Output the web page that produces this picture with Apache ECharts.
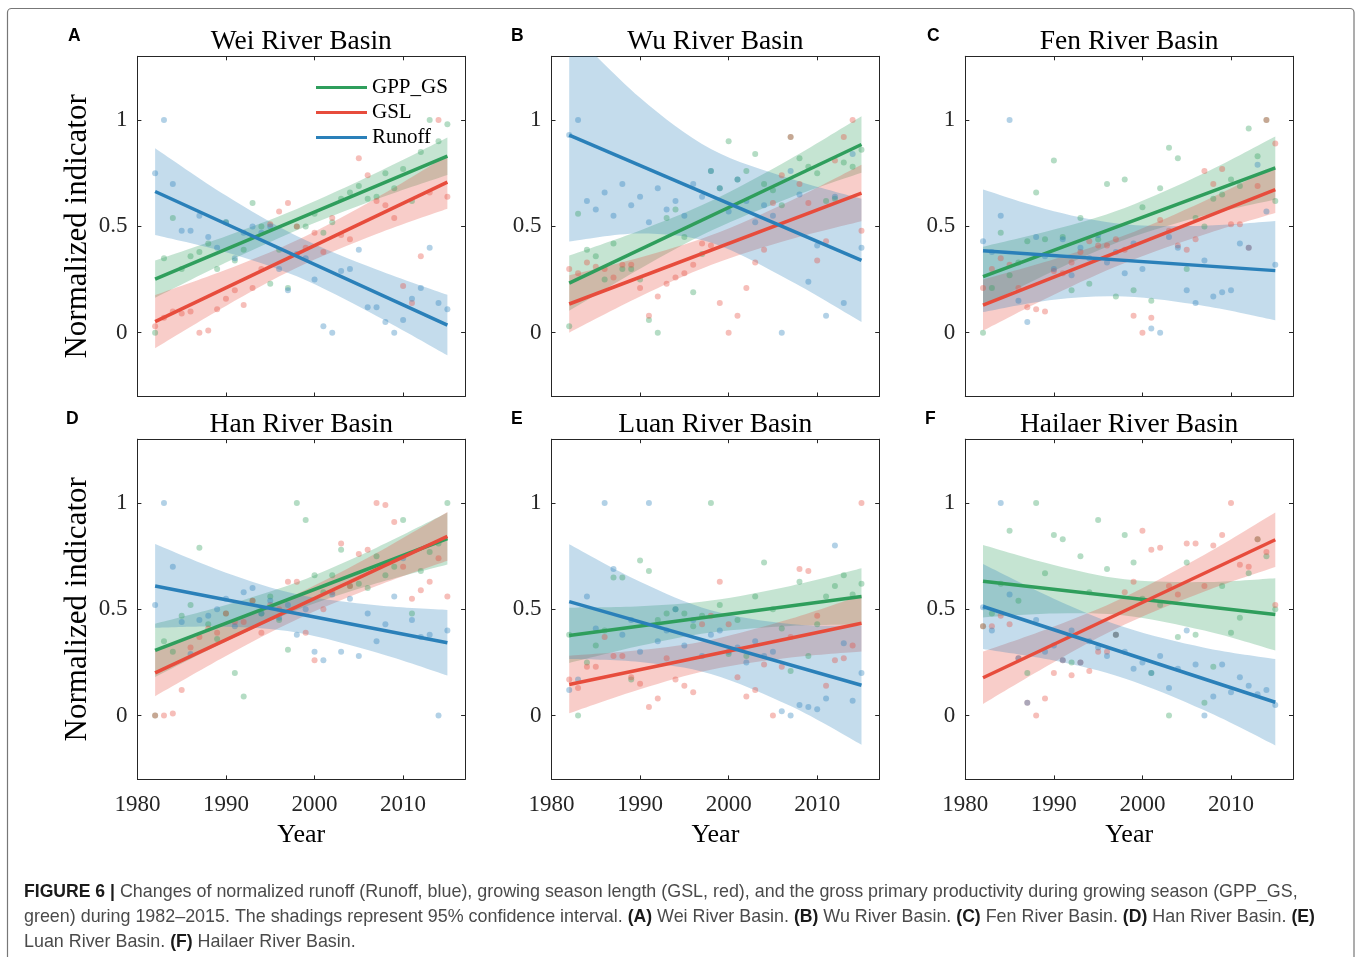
<!DOCTYPE html>
<html><head><meta charset="utf-8">
<script src="https://cdn.jsdelivr.net/npm/echarts@6/dist/echarts.min.js"></script>
<style>html,body{margin:0;padding:0;background:#fff}#c{width:1358px;height:957px}</style>
</head><body><div id="c"></div><script>
// ---------- data ----------
const years = [1982,1983,1984,1985,1986,1987,1988,1989,1990,1991,1992,1993,1994,1995,1996,1997,1998,1999,2000,2001,2002,2003,2004,2005,2006,2007,2008,2009,2010,2011,2012,2013,2014,2015];
const fitYears = [1982, 2015];
const bandYears = [1982, 1990, 1998, 2007, 2015];
const xTickLabels = [1980, 1990, 2000, 2010];
const xTickMarks = [1990, 2000, 2010];
const yTickLabels = [0, 0.5, 1];
const seriesNames = ['GPP_GS', 'GSL', 'Runoff'];
const basinNames = ['Wei River Basin', 'Wu River Basin', 'Fen River Basin', 'Han River Basin', 'Luan River Basin', 'Hailaer River Basin'];
const panelLetters = ['A', 'B', 'C', 'D', 'E', 'F'];

// Wei
const weiGPP = [0.00,0.35,0.54,0.30,0.36,0.38,0.42,0.30,0.52,0.34,0.39,0.61,0.50,0.23,0.39,0.21,0.50,0.50,0.56,0.47,0.52,0.63,0.66,0.69,0.63,0.64,0.75,0.68,0.77,0.62,0.85,1.00,0.90,0.98];
const weiGSL = [0.03,0.07,0.10,0.09,0.10,0.00,0.01,0.11,0.16,0.20,0.13,0.21,0.30,0.51,0.57,0.61,0.50,0.40,0.47,0.38,0.54,0.46,0.44,0.82,0.74,0.62,0.60,0.54,0.22,0.14,0.36,0.66,1.00,0.64];
const weiRunoff = [0.75,1.00,0.70,0.48,0.48,0.55,0.45,0.40,0.52,0.35,0.47,0.50,0.47,0.50,0.30,0.20,0.37,0.35,0.25,0.03,0.00,0.29,0.30,0.39,0.12,0.12,0.05,0.00,0.06,0.16,0.21,0.40,0.14,0.11];
const weiGPPFit = [0.252, 0.830], weiGSLFit = [0.052, 0.708], weiRunoffFit = [0.664, 0.036];
const weiGPPLo = [0.164,0.330,0.482,0.628,0.742], weiGPPHi = [0.340,0.454,0.582,0.752,0.918];
const weiGSLLo = [-0.073,0.126,0.305,0.464,0.583], weiGSLHi = [0.177,0.296,0.435,0.634,0.833];
const weiRunoffLo = [0.460,0.379,0.265,0.079,-0.106], weiRunoffHi = [0.868,0.645,0.455,0.297,0.178];

// Wu
const wuGPP = [0.03,0.56,0.39,0.36,0.25,0.42,0.30,0.30,0.25,0.06,0.00,0.54,0.58,0.45,0.19,0.37,0.76,0.68,0.90,0.72,0.76,0.84,0.70,0.67,0.60,0.92,0.82,0.78,0.75,0.62,0.63,0.80,0.78,0.86];
const wuGSL = [0.30,0.28,0.33,0.31,0.30,0.26,0.32,0.32,0.21,0.08,0.17,0.23,0.26,0.28,0.32,0.42,0.41,0.14,0.00,0.08,0.21,0.33,0.39,0.61,0.74,0.92,0.70,0.61,0.34,0.43,0.81,0.92,1.00,0.48];
const wuRunoff = [0.93,1.00,0.62,0.58,0.66,0.55,0.70,0.60,0.64,0.52,0.68,0.58,0.62,0.55,0.70,0.64,0.76,0.68,0.57,0.72,0.62,0.52,0.60,0.55,0.00,0.76,0.65,0.24,0.41,0.08,0.64,0.14,0.84,0.40];
const wuGPPFit = [0.233, 0.885], wuGSLFit = [0.135, 0.657], wuRunoffFit = [0.929, 0.340];
const wuGPPLo = [0.103,0.301,0.479,0.636,0.752], wuGPPHi = [0.363,0.481,0.619,0.818,1.018];
const wuGSLLo = [0.000,0.170,0.318,0.439,0.524], wuGSLHi = [0.270,0.354,0.458,0.621,0.790];
const wuRunoffLo = [0.429,0.467,0.424,0.243,0.050], wuRunoffHi = [1.429,1.105,0.864,0.724,0.630];

// Fen
const fenGPP = [0.00,0.21,0.47,0.27,0.33,0.43,0.66,0.44,0.81,0.45,0.20,0.54,0.23,0.44,0.70,0.17,0.72,0.20,0.59,0.15,0.68,0.87,0.82,0.30,0.54,0.50,0.63,0.65,0.72,0.69,0.96,0.83,1.00,0.62];
const fenGSL = [0.21,0.30,0.35,0.32,0.21,0.12,0.11,0.10,0.29,0.28,0.33,0.38,0.43,0.41,0.41,0.44,0.39,0.08,0.00,0.07,0.53,0.48,0.41,0.39,0.44,0.76,0.70,0.77,0.51,0.51,0.40,0.69,1.00,0.89];
const fenRunoff = [0.43,0.38,0.55,1.00,0.15,0.05,0.45,0.36,0.30,0.44,0.27,0.40,0.35,0.46,0.33,0.38,0.28,0.42,0.30,0.02,0.00,0.45,0.40,0.20,0.14,0.34,0.17,0.19,0.20,0.42,0.40,0.79,0.57,0.32];
const fenGPPFit = [0.264, 0.775], fenGSLFit = [0.130, 0.673], fenRunoffFit = [0.385, 0.292];
const fenGPPLo = [0.124,0.291,0.437,0.551,0.627], fenGPPHi = [0.404,0.485,0.587,0.751,0.923];
const fenGSLLo = [0.010,0.179,0.328,0.462,0.563], fenGSLHi = [0.250,0.345,0.458,0.620,0.783];
const fenRunoffLo = [0.097,0.155,0.170,0.126,0.059], fenRunoffHi = [0.673,0.571,0.510,0.503,0.525];

// Han
const hanGPP = [0.00,0.35,0.30,0.47,0.52,0.79,0.43,0.36,0.48,0.20,0.09,0.54,0.48,0.56,0.45,0.31,1.00,0.92,0.66,0.58,0.66,0.78,0.61,0.62,0.60,0.75,0.66,0.70,0.92,0.48,0.68,0.77,0.81,1.00];
const hanGSL = [0.00,0.00,0.01,0.12,0.32,0.37,0.41,0.39,0.48,0.44,0.44,0.54,0.39,0.52,0.50,0.63,0.63,0.39,0.26,0.50,0.58,0.81,0.61,0.76,0.78,1.00,0.99,0.91,0.70,0.55,0.59,0.63,0.74,0.56];
const hanRunoff = [0.52,1.00,0.70,0.44,0.29,0.45,0.47,0.50,0.55,0.42,0.58,0.60,0.48,0.54,0.46,0.52,0.38,0.50,0.30,0.26,0.57,0.30,0.55,0.28,0.48,0.35,0.43,0.56,0.74,0.45,0.37,0.38,0.00,0.40];
const hanGPPFit = [0.307, 0.833], hanGSLFit = [0.201, 0.843], hanRunoffFit = [0.610, 0.343];
const hanGPPLo = [0.182,0.349,0.497,0.622,0.711], hanGPPHi = [0.432,0.520,0.627,0.790,0.955];
const hanGSLLo = [0.091,0.280,0.452,0.609,0.728], hanGSLHi = [0.311,0.433,0.572,0.765,0.958];
const hanRunoffLo = [0.413,0.418,0.391,0.297,0.189], hanRunoffHi = [0.807,0.672,0.571,0.519,0.497];

// Luan
const luanGPP = [0.38,0.00,0.25,0.33,0.40,0.65,0.65,0.17,0.73,0.68,0.45,0.48,0.50,0.48,0.42,0.47,1.00,0.52,0.29,0.45,0.28,0.56,0.72,0.50,0.41,0.21,0.63,0.28,0.43,0.56,0.61,0.66,0.57,0.62];
const luanGSL = [0.17,0.13,0.23,0.23,0.37,0.28,0.28,0.18,0.15,0.04,0.08,0.27,0.17,0.14,0.11,0.43,0.47,0.63,0.43,0.18,0.09,0.12,0.24,0.00,0.23,0.37,0.69,0.68,0.47,0.14,0.26,0.27,0.33,1.00];
const luanRunoff = [0.12,0.17,0.56,0.41,1.00,0.69,0.38,0.45,0.30,1.00,0.35,0.40,0.50,0.33,0.45,0.28,0.38,0.40,0.30,0.32,0.25,0.35,0.28,0.30,0.02,0.00,0.05,0.04,0.03,0.08,0.80,0.34,0.07,0.20];
const luanGPPFit = [0.377, 0.560], luanGSLFit = [0.146, 0.434], luanRunoffFit = [0.536, 0.143];
const luanGPPLo = [0.247,0.328,0.391,0.422,0.427], luanGPPHi = [0.507,0.514,0.541,0.610,0.693];
const luanGSLLo = [0.011,0.124,0.216,0.273,0.302], luanGSLHi = [0.281,0.308,0.356,0.455,0.566];
const luanRunoffLo = [0.266,0.252,0.196,0.045,-0.137], luanRunoffHi = [0.806,0.630,0.496,0.431,0.423];

// Hailaer
const hailaerGPP = [0.42,0.48,0.62,0.87,0.54,0.20,1.00,0.67,0.85,0.83,0.25,0.75,0.58,0.92,0.69,0.38,0.85,0.72,0.55,0.20,0.52,0.00,0.37,0.72,0.38,0.06,0.23,0.61,0.39,0.46,0.67,0.83,0.75,0.50];
const hailaerGSL = [0.42,0.42,0.47,0.43,0.27,0.06,0.00,0.08,0.20,0.26,0.19,0.25,0.21,0.30,0.30,0.38,0.58,0.63,0.87,0.78,0.79,0.61,0.57,0.81,0.81,0.61,0.80,0.85,1.00,0.71,0.70,0.83,0.77,0.52];
const hailaerRunoff = [0.51,0.40,1.00,0.57,0.27,0.06,0.45,0.30,0.33,0.26,0.40,0.25,0.35,0.32,0.28,0.38,0.30,0.22,0.25,0.20,0.28,0.13,0.22,0.40,0.24,0.00,0.09,0.24,0.11,0.18,0.14,0.10,0.12,0.05];
const hailaerGPPFit = [0.632, 0.476], hailaerGSLFit = [0.178, 0.827], hailaerRunoffFit = [0.513, 0.063];
const hailaerGPPLo = [0.462,0.480,0.471,0.400,0.306], hailaerGPPHi = [0.802,0.708,0.641,0.628,0.646];
const hailaerGSLLo = [0.055,0.251,0.428,0.584,0.699], hailaerGSLHi = [0.301,0.419,0.558,0.756,0.955];
const hailaerRunoffLo = [0.313,0.259,0.175,0.025,-0.140], hailaerRunoffHi = [0.713,0.550,0.415,0.319,0.266];

// ---------- assembly ----------
const panels = [
  {pts:[weiGPP,weiGSL,weiRunoff], fit:[weiGPPFit,weiGSLFit,weiRunoffFit], lo:[weiGPPLo,weiGSLLo,weiRunoffLo], hi:[weiGPPHi,weiGSLHi,weiRunoffHi]},
  {pts:[wuGPP,wuGSL,wuRunoff], fit:[wuGPPFit,wuGSLFit,wuRunoffFit], lo:[wuGPPLo,wuGSLLo,wuRunoffLo], hi:[wuGPPHi,wuGSLHi,wuRunoffHi]},
  {pts:[fenGPP,fenGSL,fenRunoff], fit:[fenGPPFit,fenGSLFit,fenRunoffFit], lo:[fenGPPLo,fenGSLLo,fenRunoffLo], hi:[fenGPPHi,fenGSLHi,fenRunoffHi]},
  {pts:[hanGPP,hanGSL,hanRunoff], fit:[hanGPPFit,hanGSLFit,hanRunoffFit], lo:[hanGPPLo,hanGSLLo,hanRunoffLo], hi:[hanGPPHi,hanGSLHi,hanRunoffHi]},
  {pts:[luanGPP,luanGSL,luanRunoff], fit:[luanGPPFit,luanGSLFit,luanRunoffFit], lo:[luanGPPLo,luanGSLLo,luanRunoffLo], hi:[luanGPPHi,luanGSLHi,luanRunoffHi]},
  {pts:[hailaerGPP,hailaerGSL,hailaerRunoff], fit:[hailaerGPPFit,hailaerGSLFit,hailaerRunoffFit], lo:[hailaerGPPLo,hailaerGSLLo,hailaerRunoffLo], hi:[hailaerGPPHi,hailaerGSLHi,hailaerRunoffHi]}
];

const colors = ['#2f9e5c', '#e74c3c', '#2a80b9'];
const SERIF = '"Liberation Serif", "Times New Roman", serif';
const SANS = '"Liberation Sans", Arial, sans-serif';
const AX = '#262626';
const gridLeft = [137.4, 551.5, 965.3];
const gridTop = [56.3, 439.2];
const GW = 327.7, GH = 340.2;
const letterX = [[68, 511, 927], [66, 511, 925]];

// smooth curve (Catmull-Rom -> cubic Bezier) through screen points
function curvePath(pts, start) {
  let d = (start ? 'M' : 'L') + pts[0][0] + ',' + pts[0][1];
  for (let i = 0; i < pts.length - 1; i++) {
    const p0 = pts[i - 1] || pts[i], p1 = pts[i], p2 = pts[i + 1], p3 = pts[i + 2] || p2;
    const c1x = p1[0] + (p2[0] - p0[0]) / 6, c1y = p1[1] + (p2[1] - p0[1]) / 6;
    const c2x = p2[0] - (p3[0] - p1[0]) / 6, c2y = p2[1] - (p3[1] - p1[1]) / 6;
    d += 'C' + c1x + ',' + c1y + ',' + c2x + ',' + c2y + ',' + p2[0] + ',' + p2[1];
  }
  return d;
}
function bandRenderer(color) {
  return function (params, api) {
    if (params.dataIndex !== 0) return null;
    const n = params.dataInsideLength;
    const up = [], dn = [];
    for (let k = 0; k < n; k++) {
      const x = api.value(0, k);
      up.push(api.coord([x, api.value(2, k)]));
      dn.push(api.coord([x, api.value(1, k)]));
    }
    dn.reverse();
    const d = curvePath(up, true) + curvePath(dn, false) + 'Z';
    return {type: 'path', shape: {pathData: d}, style: {fill: color, opacity: 0.28}, silent: true};
  };
}

const grids = [], xAxes = [], yAxes = [], series = [], graphics = [];
const axLine = {show: true, onZero: false, lineStyle: {color: AX, width: 1}};

panels.forEach((p, i) => {
  const col = i % 3, row = Math.floor(i / 3);
  grids.push({left: gridLeft[col], top: gridTop[row], width: GW, height: GH});
  const xBase = {gridIndex: i, type: 'value', min: 1980, max: 2017, splitLine: {show: false}, axisLine: axLine};
  xAxes.push(Object.assign({}, xBase, {
    position: 'bottom',
    axisTick: {show: true, inside: true, length: 4, customValues: xTickMarks, lineStyle: {color: AX}},
    axisLabel: {show: row === 1, customValues: xTickLabels, formatter: v => String(v), fontFamily: SERIF, fontSize: 23, color: AX, margin: 14},
    name: row === 1 ? 'Year' : '', nameLocation: 'middle', nameGap: 43,
    nameTextStyle: {fontFamily: SERIF, fontSize: 26, color: '#000'}
  }));
  xAxes.push(Object.assign({}, xBase, {
    position: 'top',
    axisTick: {show: true, inside: true, length: 4, customValues: xTickMarks, lineStyle: {color: AX}},
    axisLabel: {show: false}
  }));
  const yBase = {gridIndex: i, type: 'value', min: -0.3, max: 1.3, splitLine: {show: false}, axisLine: axLine};
  yAxes.push(Object.assign({}, yBase, {
    position: 'left',
    axisTick: {show: true, inside: true, length: 4, customValues: yTickLabels, lineStyle: {color: AX}},
    axisLabel: {show: true, customValues: yTickLabels, formatter: v => String(v), fontFamily: SERIF, fontSize: 23, color: AX, margin: 10},
    name: col === 0 ? 'Normalized indicator' : '', nameLocation: 'middle', nameRotate: 90, nameGap: 44,
    nameTextStyle: {fontFamily: SERIF, fontSize: 31, color: '#000'}
  }));
  yAxes.push(Object.assign({}, yBase, {
    position: 'right',
    axisTick: {show: true, inside: true, length: 4, customValues: yTickLabels, lineStyle: {color: AX}},
    axisLabel: {show: false}
  }));
  const xi = 2 * i, yi = 2 * i;
  // scatter points
  p.pts.forEach((vals, s) => {
    series.push({type: 'scatter', name: seriesNames[s] + ' obs', xAxisIndex: xi, yAxisIndex: yi, silent: true,
      symbolSize: 6, itemStyle: {color: colors[s], opacity: 0.36},
      data: years.map((y, k) => [y, vals[k]])});
  });
  // bands + fitted lines
  [0, 1, 2].forEach(s => {
    series.push({type: 'custom', name: seriesNames[s] + ' band', xAxisIndex: xi, yAxisIndex: yi, clip: true, silent: true,
      encode: {x: 0, y: [1, 2]},
      renderItem: bandRenderer(colors[s]),
      data: bandYears.map((y, k) => [y, p.lo[s][k], p.hi[s][k]])});
    series.push({type: 'line', name: seriesNames[s], xAxisIndex: xi, yAxisIndex: yi, symbol: 'none', silent: true,
      color: colors[s], itemStyle: {color: colors[s]}, lineStyle: {color: colors[s], width: 3.5},
      data: fitYears.map((y, k) => [y, p.fit[s][k]])});
  });
  // panel title + letter
  graphics.push({type: 'text', x: gridLeft[col] + GW / 2, y: row ? 425 : 42, silent: true,
    style: {text: basinNames[i], fontFamily: SERIF, fontSize: 27.5, fill: '#000', align: 'center', verticalAlign: 'middle'}});
  graphics.push({type: 'text', x: letterX[row][col], y: row ? 419.5 : 36.5, silent: true,
    style: {text: panelLetters[i], fontFamily: SANS, fontSize: 17.5, fontWeight: 'bold', fill: '#000', align: 'left', verticalAlign: 'middle'}});
});

// frame
graphics.push({type: 'rect', silent: true, shape: {x: 7.5, y: 8.5, width: 1346.5, height: 1000, r: 4},
  style: {fill: 'none', stroke: '#777', lineWidth: 1.2}});
// caption
graphics.push({type: 'text', x: 24, y: 879.5, silent: true, style: {
  text: '{b|FIGURE 6 |} Changes of normalized runoff (Runoff, blue), growing season length (GSL, red), and the gross primary productivity during growing season (GPP_GS,\n' +
        'green) during 1982–2015. The shadings represent 95% confidence interval. {b|(A)} Wei River Basin. {b|(B)} Wu River Basin. {b|(C)} Fen River Basin. {b|(D)} Han River Basin. {b|(E)}\n' +
        'Luan River Basin. {b|(F)} Hailaer River Basin.',
  fontFamily: SANS, fontSize: 17.9, fill: '#4a4a4a', lineHeight: 25, align: 'left', verticalAlign: 'top',
  rich: {b: {fontFamily: SANS, fontSize: 17.6, fontWeight: 'bold', fill: '#1a1a1a', lineHeight: 25}}
}});

const chart = echarts.init(document.getElementById('c'), null, {renderer: 'canvas'});
chart.setOption({
  animation: false,
  backgroundColor: '#fff',
  grid: grids, xAxis: xAxes, yAxis: yAxes, series: series,
  legend: {
    data: seriesNames.map((n, k) => ({name: n, itemStyle: {color: colors[k]}})),
    orient: 'vertical', left: 316, top: 77, icon: 'rect', itemWidth: 51, itemHeight: 3, itemGap: 4,
    selectedMode: false, padding: 0,
    textStyle: {fontFamily: SERIF, fontSize: 21, color: '#000', lineHeight: 21}
  },
  graphic: graphics
});
</script></body></html>
